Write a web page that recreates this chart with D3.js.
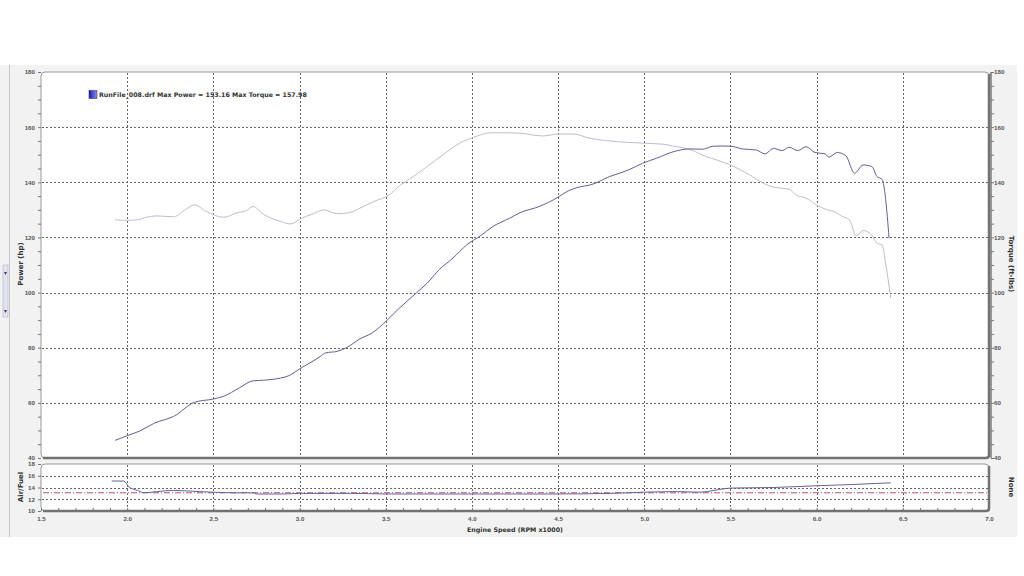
<!DOCTYPE html>
<html>
<head>
<meta charset="utf-8">
<script src="https://cdn.jsdelivr.net/npm/d3@7"></script>
<style>
  body { margin: 0; background: #fff; }
  svg { display: block; font-family: "DejaVu Sans", Verdana, sans-serif; }
  .tick text { font-size: 6.2px; font-weight: bold; fill: #555; }
  .axis path { display: none; }
  .axis line { stroke: #777; }
  .grid line { stroke: #666; stroke-dasharray: 2,2; shape-rendering: crispEdges; }
  .title { font-size: 7px; font-weight: bold; fill: #333; }
  .small { font-size: 6.3px; }
</style>
</head>
<body>
<div id="chart"></div>
<script>
const W = 1024
const H = 576

// 功率曲线 (hp)
const powerRpm = [1.93, 2.00, 2.07, 2.16, 2.27, 2.39, 2.50, 2.56, 2.65, 2.73, 2.79, 2.89, 2.94, 3.00,
  3.12, 3.15, 3.22, 3.28, 3.35, 3.42, 3.51, 3.58, 3.68, 3.74, 3.81, 3.89, 3.97, 4.05, 4.12, 4.22,
  4.28, 4.39, 4.50, 4.55, 4.63, 4.69, 4.80, 4.91, 4.99, 5.07, 5.17, 5.26, 5.34, 5.40, 5.45, 5.51,
  5.57, 5.65, 5.70, 5.75, 5.80, 5.84, 5.89, 5.94, 5.99, 6.05, 6.07, 6.12, 6.17, 6.22, 6.27, 6.32,
  6.35, 6.38, 6.41, 6.42]
const power = [46.4, 48.1, 49.7, 52.7, 55.1, 60.2, 61.4, 62.4, 65.4, 68.0, 68.2, 69.0, 69.9, 72.3,
  76.8, 78.1, 78.7, 80.3, 83.2, 85.3, 90.1, 94.4, 100.0, 103.4, 108.3, 112.5, 117.3, 120.6, 123.9, 127.0,
  129.0, 131.2, 134.6, 136.6, 138.4, 139.1, 142.1, 144.5, 146.9, 148.7, 151.1, 152.1, 152.0, 153.1, 153.16, 153.0,
  152.1, 151.7, 150.3, 152.3, 151.5, 152.7, 151.5, 152.9, 150.8, 150.3, 149.1, 150.8, 149.6, 143.3, 146.3, 145.7,
  142.1, 141.0, 127.6, 119.7]

// 扭矩曲线 (ft-lbs)
const torqueRpm = [1.93, 2.00, 2.06, 2.11, 2.17, 2.27, 2.34, 2.39, 2.46, 2.56, 2.64, 2.69, 2.73, 2.79,
  2.89, 2.95, 3.00, 3.08, 3.14, 3.22, 3.29, 3.35, 3.43, 3.52, 3.58, 3.66, 3.74, 3.83, 3.93, 4.01,
  4.10, 4.16, 4.28, 4.41, 4.50, 4.59, 4.68, 4.78, 4.90, 4.99, 5.11, 5.19, 5.26, 5.36, 5.42, 5.52,
  5.61, 5.69, 5.74, 5.79, 5.84, 5.88, 5.94, 6.00, 6.06, 6.10, 6.15, 6.19, 6.23, 6.27, 6.32, 6.35,
  6.38, 6.40, 6.43]
const torque = [126.4, 126.2, 126.4, 127.3, 127.8, 127.5, 130.2, 131.8, 129.4, 127.3, 129.0, 129.7, 131.2, 128.4,
  125.8, 124.9, 126.6, 128.6, 130.0, 128.6, 129.0, 130.6, 133.0, 135.4, 138.7, 142.1, 145.7, 149.9, 154.2, 156.3,
  157.9, 157.98, 157.8, 156.8, 157.5, 157.5, 156.0, 155.1, 154.5, 154.2, 153.8, 152.9, 152.0, 149.3, 148.1, 145.7,
  142.7, 139.7, 138.4, 137.9, 137.5, 135.4, 134.2, 131.8, 130.0, 129.4, 127.6, 126.4, 120.6, 122.5, 120.9, 117.9,
  117.3, 110.7, 98.0]

// 空燃比
const afrRpm = [1.91, 1.98, 2.01, 2.06, 2.10, 2.17, 2.27, 2.42, 2.62, 2.73, 2.75, 2.91, 3.00, 3.30,
  3.50, 3.80, 4.00, 4.30, 4.50, 4.80, 5.00, 5.20, 5.32, 5.50, 5.75, 6.00, 6.20, 6.43]
const afr = [15.1, 15.1, 14.1, 13.5, 13.1, 13.3, 13.5, 13.3, 13.1, 13.1, 12.9, 12.9, 13.0, 13.0,
  12.9, 12.9, 12.9, 12.9, 12.9, 13.0, 13.2, 13.3, 13.2, 13.9, 14.0, 14.3, 14.5, 14.8]
const AFR_TARGET = 13.1

const X_TICKS = [1.5, 2.0, 2.5, 3.0, 3.5, 4.0, 4.5, 5.0, 5.5, 6.0, 6.5, 7.0]
const Y_TICKS = [40, 60, 80, 100, 120, 140, 160, 180]
const AFR_TICKS = [10, 12, 14, 16, 18]
const LEGEND = 'RunFile_008.drf Max Power = 153.16 Max Torque = 157.98'

const POWER_COLOR = '#5e5e9c'
const TORQUE_COLOR = '#bdbdd2'
const AFR_COLOR = '#62629e'

const LEFT = 41, RIGHT = 989
const MAIN_TOP = 72, MAIN_BOTTOM = 458
const AFR_TOP = 464, AFR_BOTTOM = 511

const svg = d3.select('#chart').append('svg').attr('width', W).attr('height', H)

// 背景面板
svg.append('rect').attr('x', 0).attr('y', 65).attr('width', 1017).attr('height', 472).attr('fill', '#f2f2f2')
svg.append('line').attr('x1', 9.5).attr('x2', 9.5).attr('y1', 65).attr('y2', 537).attr('stroke', '#c8c8c8')

const x = d3.scaleLinear().domain([1.5, 7.0]).range([LEFT, RIGHT])
const y = d3.scaleLinear().domain([40, 180]).range([MAIN_BOTTOM, MAIN_TOP])
const yAfr = d3.scaleLinear().domain([10, 18]).range([AFR_BOTTOM, AFR_TOP])

function panel(top, bottom) {
  svg.append('rect')
    .attr('x', LEFT).attr('y', top).attr('width', RIGHT - LEFT).attr('height', bottom - top)
    .attr('rx', 4).attr('fill', '#fff').attr('stroke', '#9a9a9a')
}
panel(MAIN_TOP, MAIN_BOTTOM)
panel(AFR_TOP, AFR_BOTTOM)

// 网格
function grid(top, bottom, scaleY, values) {
  var g = svg.append('g').attr('class', 'grid')
  g.selectAll('.v').data(X_TICKS.slice(1, -1)).enter().append('line')
    .attr('x1', d => Math.round(x(d)) + 0.5).attr('x2', d => Math.round(x(d)) + 0.5)
    .attr('y1', top + 1).attr('y2', bottom - 1)
  g.selectAll('.h').data(values).enter().append('line')
    .attr('x1', LEFT + 1).attr('x2', RIGHT - 1)
    .attr('y1', d => Math.round(scaleY(d)) + 0.5).attr('y2', d => Math.round(scaleY(d)) + 0.5)
}
grid(MAIN_TOP, MAIN_BOTTOM, y, Y_TICKS.slice(1, -1))
grid(AFR_TOP, AFR_BOTTOM, yAfr, [12, 14, 16])

// 立体边框
function frame(top, bottom) {
  var p = d3.path()
  p.moveTo(RIGHT, top + 2)
  p.lineTo(RIGHT, bottom - 3)
  p.quadraticCurveTo(RIGHT, bottom, RIGHT - 3, bottom)
  p.lineTo(LEFT + 2, bottom)
  svg.append('path').attr('d', p.toString()).attr('fill', 'none').attr('stroke', '#727272').attr('stroke-width', 2.5)
}
frame(MAIN_TOP, MAIN_BOTTOM)
frame(AFR_TOP, AFR_BOTTOM)

// 坐标轴
var leftAxis = svg.append('g').attr('class', 'axis').attr('transform', `translate(${LEFT}, 0)`)
leftAxis.call(d3.axisLeft(y).tickValues(d3.range(40, 181, 5)).tickSize(3).tickFormat(d => d % 20 === 0 ? d : ''))
var rightAxis = svg.append('g').attr('class', 'axis').attr('transform', `translate(${RIGHT + 2}, 0)`)
rightAxis.call(d3.axisRight(y).tickValues(d3.range(40, 181, 5)).tickSize(3).tickFormat(d => d % 20 === 0 ? d : ''))
rightAxis.selectAll('.tick text').attr('x', 3)
svg.append('line').attr('x1', RIGHT + 2).attr('x2', RIGHT + 2).attr('y1', MAIN_TOP).attr('y2', MAIN_BOTTOM)
  .attr('stroke', '#7a7a7a').attr('stroke-width', 1.5)

var afrAxis = svg.append('g').attr('class', 'axis').attr('transform', `translate(${LEFT}, 0)`)
afrAxis.call(d3.axisLeft(yAfr).tickValues(AFR_TICKS).tickSize(3))

var bottomAxis = svg.append('g').attr('class', 'axis').attr('transform', `translate(0, ${AFR_BOTTOM})`)
bottomAxis.call(d3.axisBottom(x).tickValues(d3.range(15, 71).map(d => d / 10)).tickSizeInner(-3).tickPadding(6)
  .tickFormat(d => Math.round(d * 10) % 5 === 0 ? d3.format('.1f')(d) : ''))

// 曲线
var line = d3.line().x(d => x(d[0])).y(d => y(d[1])).curve(d3.curveMonotoneX)
svg.append('path').datum(d3.zip(torqueRpm, torque)).attr('d', line)
  .attr('fill', 'none').attr('stroke', TORQUE_COLOR).attr('stroke-width', 1)
svg.append('path').datum(d3.zip(powerRpm, power)).attr('d', line)
  .attr('fill', 'none').attr('stroke', POWER_COLOR).attr('stroke-width', 1)

svg.append('line').attr('x1', LEFT + 2).attr('x2', RIGHT - 2)
  .attr('y1', yAfr(AFR_TARGET)).attr('y2', yAfr(AFR_TARGET))
  .attr('stroke', '#c0506a').attr('stroke-dasharray', '6,2,1,2')
var afrLine = d3.line().x(d => x(d[0])).y(d => yAfr(d[1])).curve(d3.curveMonotoneX)
svg.append('path').datum(d3.zip(afrRpm, afr)).attr('d', afrLine)
  .attr('fill', 'none').attr('stroke', AFR_COLOR).attr('stroke-width', 1)

// 图例
var grad = svg.append('defs').append('linearGradient').attr('id', 'lg')
grad.append('stop').attr('offset', '0%').attr('stop-color', '#1a1ab8')
grad.append('stop').attr('offset', '100%').attr('stop-color', '#8c8cf0')
svg.append('rect').attr('x', 89).attr('y', 90.5).attr('width', 8).attr('height', 8)
  .attr('fill', 'url(#lg)').attr('stroke', '#224')
  .attr('stroke-width', 0.5)
svg.append('text').attr('class', 'title small').attr('x', 99).attr('y', 97).text(LEGEND)

// 轴标题
svg.append('text').attr('class', 'title').attr('transform', `translate(23, 264) rotate(-90)`)
  .attr('text-anchor', 'middle').text('Power (hp)')
svg.append('text').attr('class', 'title').attr('transform', `translate(1009, 264) rotate(90)`)
  .attr('text-anchor', 'middle').text('Torque (ft-lbs)')
svg.append('text').attr('class', 'title').attr('transform', `translate(23, 487) rotate(-90)`)
  .attr('text-anchor', 'middle').text('Air/Fuel')
svg.append('text').attr('class', 'title').attr('transform', `translate(1009, 487) rotate(90)`)
  .attr('text-anchor', 'middle').text('None')
svg.append('text').attr('class', 'title small').attr('x', 515).attr('y', 532)
  .attr('text-anchor', 'middle').text('Engine Speed (RPM x1000)')

// 左侧滚动条小部件
var sb = svg.append('g').attr('transform', 'translate(3, 265)')
sb.append('rect').attr('width', 5).attr('height', 52).attr('fill', '#e4e4f0').attr('stroke', '#a0a0c0').attr('stroke-width', 0.5)
sb.append('path').attr('d', 'M1,7 L4,7 L2.5,10 Z').attr('fill', '#3a3a80')
sb.append('path').attr('d', 'M1,45 L4,45 L2.5,48 Z').attr('fill', '#3a3a80')
</script>
</body>
</html>
